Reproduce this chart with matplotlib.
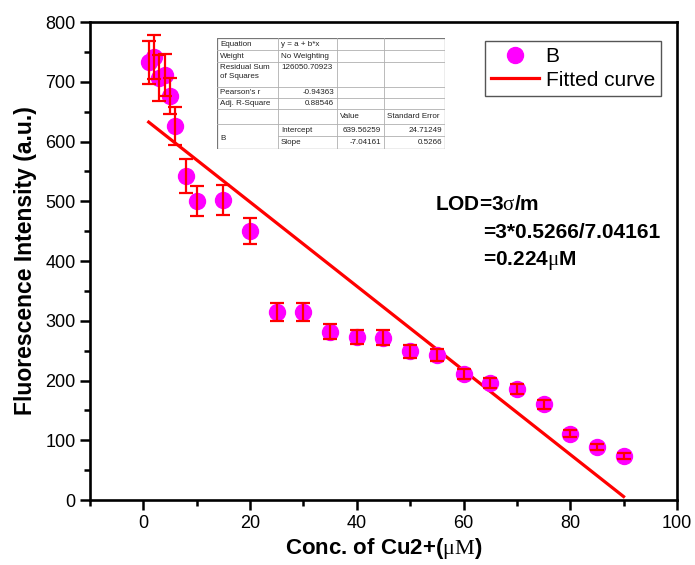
import matplotlib.pyplot as plt
import numpy as np
from matplotlib.ticker import MultipleLocator

plt.rcParams['font.family'] = ['Liberation Sans', 'DejaVu Sans']
plt.rcParams['mathtext.fontset'] = 'custom'
plt.rcParams['mathtext.rm'] = 'Liberation Serif'
plt.rcParams['mathtext.it'] = 'Liberation Serif:italic'
plt.rcParams['mathtext.bf'] = 'Liberation Serif:bold'

# data
conc = [1, 2, 3, 4, 5, 6, 8, 10, 15, 20, 25, 30, 35, 40, 45, 50, 55, 60, 65, 70, 75, 80, 85, 90]
intensity = [733, 741, 706, 711, 676, 626, 542, 500, 502, 450, 315, 314, 282, 273, 272,
             249, 243, 211, 196, 186, 160, 111, 89, 74]
err = [36, 37, 38, 35, 30, 31, 28, 25, 25, 22, 15, 15, 13, 12, 12, 11, 10, 9, 8, 8, 7, 6, 5, 5]
intercept = 639.56259
slope = -7.04161

# fit report table (Origin style)
table_cells = [
    ['Equation', 'y = a + b*x', '', ''],
    ['Weight', 'No Weighting', '', ''],
    ['Residual Sum\nof Squares', '126050.70923', '', ''],
    ["Pearson's r", '-0.94363', '', ''],
    ['Adj. R-Square', '0.88546', '', ''],
    ['', '', 'Value', 'Standard Error'],
    ['B', 'Intercept', '639.56259', '24.71249'],
    ['', 'Slope', '-7.04161', '0.5266'],
]

fig = plt.figure(figsize=(6.95, 5.65), dpi=100)
ax = fig.add_axes([0.1295, 0.115, 0.8445, 0.846])

pts, = ax.plot(conc, intensity, 'o', color='#ff00ff', markersize=11.5, label='B', zorder=3)
ax.errorbar(conc, intensity, yerr=err, fmt='none', ecolor='red', elinewidth=1.6,
            capsize=5, capthick=1.6, zorder=4)
fit_x = np.array([conc[0], conc[-1]])
fit, = ax.plot(fit_x, intercept + slope * fit_x, color='red', lw=2.3, label='Fitted curve', zorder=2)

ax.set_xlim(-10, 100)
ax.set_ylim(0, 800)
ax.xaxis.set_major_locator(MultipleLocator(20))
ax.xaxis.set_minor_locator(MultipleLocator(10))
ax.yaxis.set_major_locator(MultipleLocator(100))
ax.yaxis.set_minor_locator(MultipleLocator(50))
ax.tick_params(which='both', direction='out', width=1.8, labelsize=13, top=False, right=False)
ax.tick_params(which='major', length=7)
ax.tick_params(which='minor', length=4.5)
for s in ax.spines.values():
    s.set_linewidth(1.9)

ax.set_xlabel(r'Conc. of Cu2+($\mathrm{\mu M}$)', fontsize=16, fontweight='bold', labelpad=3)
ax.set_ylabel('Fluorescence Intensity (a.u.)', fontsize=16.5, fontweight='bold', labelpad=6)

leg = ax.legend(handles=[pts, fit], loc='upper right', bbox_to_anchor=(0.973, 0.960), fontsize=15,
                fancybox=False, edgecolor='#555555', framealpha=1, borderpad=0.3,
                handlelength=2.3, handletextpad=0.3, labelspacing=0.2, borderaxespad=0)
leg.get_frame().set_linewidth(1.0)

# LOD annotation
fig.text(435 / 695, 1 - 205 / 565, r'LOD=3$\mathrm{\sigma}$/m', fontsize=15,
         fontweight='bold', va='center')
fig.text(483 / 695, 1 - 232 / 565, '=3*0.5266/7.04161', fontsize=15,
         fontweight='bold', va='center')
fig.text(483 / 695, 1 - 260 / 565, r'=0.224$\mathrm{\mu}$M', fontsize=15,
         fontweight='bold', va='center')

# inset table, drawn in pixel coordinates
tx = [217, 278, 337, 384, 445]
ty = [38, 50, 62, 87, 98, 109, 124, 136, 149]
tab = fig.add_axes([tx[0] / 695, 1 - ty[-1] / 565, (tx[-1] - tx[0]) / 695, (ty[-1] - ty[0]) / 565])
tab.set_xlim(tx[0], tx[-1])
tab.set_ylim(ty[-1], ty[0])
tab.axis('off')
tab.add_patch(plt.Rectangle((tx[0], ty[0]), tx[-1] - tx[0], ty[-1] - ty[0],
                            facecolor='white', edgecolor='#777777', lw=0.9, zorder=0))
gc = '#b0b0b0'
for i, y in enumerate(ty[1:-1], start=1):
    x0 = tx[1] if i == 7 else tx[0]
    tab.plot([x0, tx[-1]], [y, y], color=gc, lw=0.6)
for x in tx[1:-1]:
    tab.plot([x, x], [ty[0], ty[-1]], color=gc, lw=0.6)

right_cols = {(3, 1), (4, 1), (6, 2), (6, 3), (7, 2), (7, 3)}
for r, row in enumerate(table_cells):
    for c, txt in enumerate(row):
        if not txt:
            continue
        yc = (ty[r] + ty[r + 1]) / 2
        if r == 6 and c == 0:
            yc = ty[r + 1] + 2
        va = 'center'
        if r == 2:
            yc = ty[r] + 2
            va = 'top'
        if (r, c) in right_cols:
            tab.text(tx[c + 1] - 3, yc, txt, fontsize=5.8, ha='right', va=va, color='#222222')
        else:
            tab.text(tx[c] + 3, yc, txt, fontsize=5.8, ha='left', va=va, color='#222222',
                     linespacing=1.3)

fig.savefig('out.png', dpi=100)
